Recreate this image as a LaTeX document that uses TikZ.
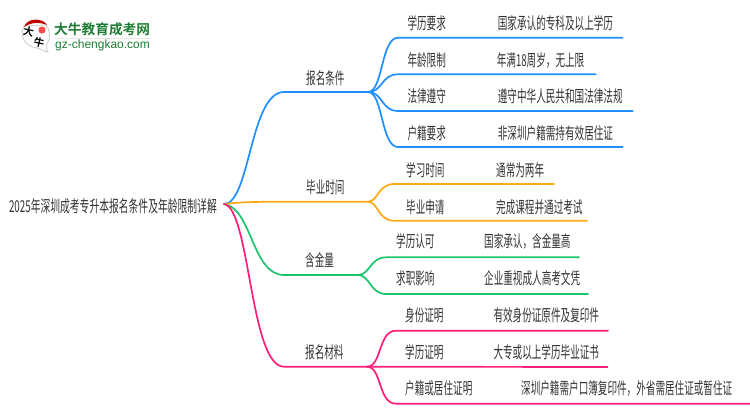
\documentclass[tikz,border=0pt]{standalone}
\usepackage{fontspec}
\setmainfont{Liberation Sans}
\newfontfamily\cjk[FakeStretch=0.585]{Noto Sans CJK SC}
\newfontfamily\cjkroot[FakeStretch=0.597]{Noto Sans CJK SC}
\newfontfamily\cjklogo{Noto Sans CJK SC Bold}
\definecolor{cblue}{HTML}{1E90FF}
\definecolor{corange}{HTML}{FFA914}
\definecolor{cgreen}{HTML}{1CC46E}
\definecolor{cpink}{HTML}{FF1F78}
\definecolor{cgrey}{HTML}{333333}
\definecolor{logogreen}{HTML}{1E7E34}
\tikzset{
  lab/.style={inner sep=0pt,anchor=base west,font=\cjk\fontsize{16.4}{17}\selectfont,text=cgrey},
  link/.style={line width=1.7pt,line cap=round},
  branch/.style={line width=1.7pt,line cap=round},
}
\begin{document}
\begin{tikzpicture}[x=1pt,y=-1pt]
\useasboundingbox (0,0) rectangle (750,410);
\fill[white] (0,0) rectangle (750,410);
% logo
\fill[white,draw=black!18,line width=0.9pt] (24,26) .. controls (19,36) and (25,47) .. (37,48) .. controls (41,49) and (45,52) .. (48,52) .. controls (46,49) and (46,47) .. (47,44) .. controls (51,38) and (50,30) .. (46,25) -- cycle;
\fill[red!75!black] (24,27) .. controls (27,17.5) and (43,17.5) .. (47,25) .. controls (40,22) and (31,22) .. (24,27) -- cycle;
\fill[red!70!white] (42,30) circle (3.6);
\node[rotate=-12,font=\cjklogo\fontsize{10.5}{11}\selectfont,text=black,inner sep=0pt] (logoa) at (28.5,31.5) {大};
\node[rotate=-12,font=\cjklogo\fontsize{10.5}{11}\selectfont,text=black,inner sep=0pt] (logob) at (39,43) {牛};
\node[font=\cjklogo\fontsize{13.7}{14}\selectfont,text=logogreen,inner sep=0pt,anchor=west] (logot) at (54,29) {大牛教育成考网};
\node[font=\fontsize{12}{12}\selectfont,text=logogreen,inner sep=0pt,anchor=west] (logou) at (55,45) {gz-chengkao.com};
\draw[black!10,line width=0.6pt] (55,38.3) -- (150,38.3);
% root
\node[lab,anchor=base east,font=\cjkroot\fontsize{16.4}{17}\selectfont] (root) at (217,212.3) {2025年深圳成考专升本报名条件及年龄限制详解};
\coordinate (r) at (224,204);
% level-1 text
\foreach \n/\x/\t/\y in {a/306/报名条件/84.8, b/306/毕业时间/193.5, c/305/含金量/266.8, d/305/报名材料/358.8}
  \node[lab] (\n) at (\x,\y) {\t};
% level-2
\foreach \n/\x/\y/\t in {
 a1/407.3/29.3/学历要求, a2/407.3/66.3/年龄限制, a3/407.3/102.8/法律遵守, a4/407.3/139.8/户籍要求,
 b1/406/176.5/学习时间, b2/406/213.8/毕业申请,
 c1/396/247.8/学历认可, c2/396/284.8/求职影响,
 d1/405/321.8/身份证明, d2/405/358.8/学历证明, d3/405/394.8/户籍或居住证明}
  \node[lab] (\n) at (\x,\y) {\t};
% level-3
\foreach \n/\x/\y/\t in {
 e1/497.7/29.3/国家承认的专科及以上学历, e2/496.7/66.3/年满18周岁，无上限, e3/497.7/102.8/遵守中华人民共和国法律法规, e4/497.7/139.8/非深圳户籍需持有效居住证,
 f1/496/176.5/通常为两年, f2/496/213.8/完成课程并通过考试,
 g1/484/247.8/国家承认，含金量高, g2/484/284.8/企业重视成人高考文凭,
 h1/493.3/321.8/有效身份证原件及复印件, h2/493.3/358.8/大专或以上学历毕业证书, h3/521/394.8/深圳户籍需户口簿复印件，外省需居住证或暂住证}
  \node[lab] (\n) at (\x,\y) {\t};
% coordinates
\coordinate (ja) at (368,92);
\coordinate (jb) at (368,201.7);
\coordinate (jc) at (358,275);
\coordinate (jd) at (367,366.7);
% main branches
\draw[link,cblue] (r) .. controls (250,204) and (250,92) .. (284,92) -- (ja);
\draw[link,corange] (r) .. controls (240,202) and (260,201.7) .. (284,201.7) -- (jb);
\draw[link,cgreen] (r) .. controls (252,208) and (252,275) .. (284,275) -- (jc);
\draw[link,cpink] (r) .. controls (250,208) and (250,366.7) .. (284,366.7) -- (jd);
% sub branches
\foreach \xe/\y in {622.5/37.7, 595.7/74.3, 632.7/111, 622.7/147}
  \draw[branch,cblue] (ja) .. controls (383,92) and (381,\y) .. (398,\y) -- (\xe,\y);
\foreach \xe/\y in {554/184, 587/220.7}
  \draw[branch,corange] (jb) .. controls (378,201.7) and (378,\y) .. (394,\y) -- (\xe,\y);
\foreach \xe/\y in {579/257.3, 588/294}
  \draw[branch,cgreen] (jc) .. controls (370,275) and (370,\y) .. (386,\y) -- (\xe,\y);
\foreach \xe/\y in {608/330.7, 750/403.7}
  \draw[branch,cpink] (jd) .. controls (382,366.7) and (378,\y) .. (396,\y) -- (\xe,\y);
\draw[branch,cpink] (jd) -- (607.5,367);
\end{tikzpicture}
\end{document}
